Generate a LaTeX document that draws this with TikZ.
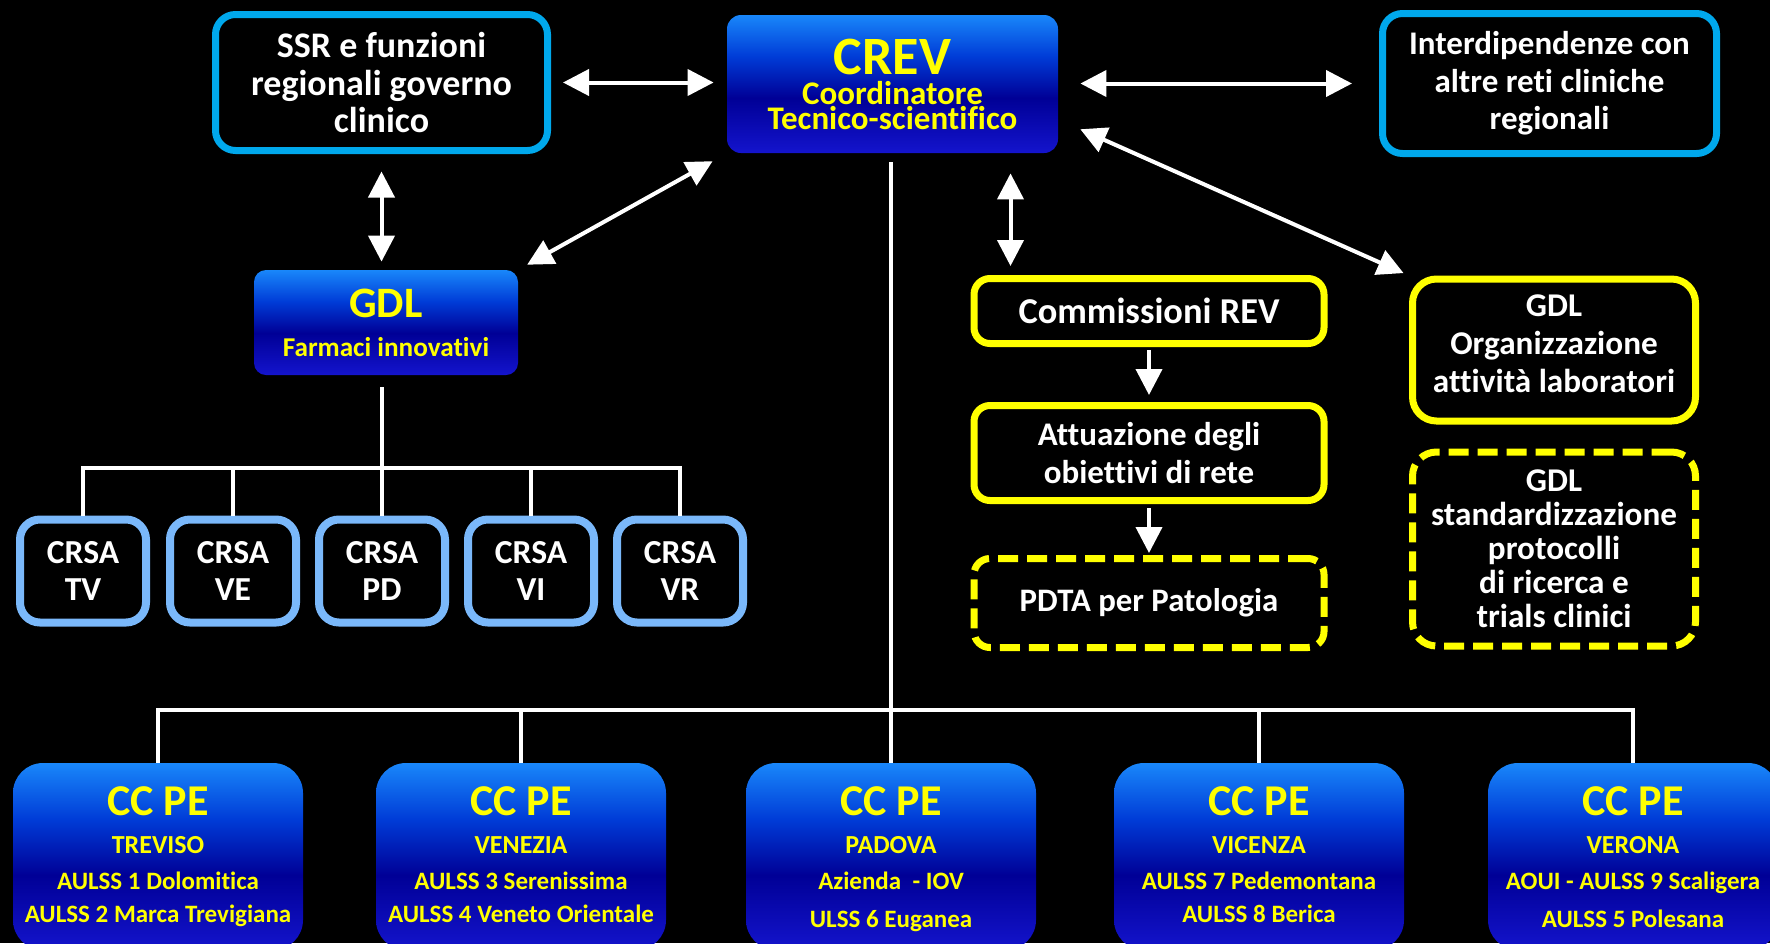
\documentclass[tikz,border=0pt]{standalone}
\usepackage{fontspec}
\setmainfont{Carlito}[Ligatures=NoCommon]
\usepackage{tikz}
\usetikzlibrary{arrows.meta}

\definecolor{ssrblue}{RGB}{0,168,236}
\definecolor{crsablue}{RGB}{122,184,250}
\definecolor{yel}{RGB}{255,255,0}
\definecolor{cctop}{RGB}{25,135,250}
\definecolor{ccmid}{RGB}{0,60,215}
\definecolor{ccdark}{RGB}{0,0,150}
\definecolor{ccbot}{RGB}{20,20,205}
\pgfdeclareverticalshading{ccshade}{100bp}{color(0bp)=(ccbot); color(25bp)=(ccbot); color(45bp)=(ccdark); color(60bp)=(ccmid); color(75bp)=(cctop); color(100bp)=(cctop)}

\tikzset{
  outline/.style={draw=ssrblue, line width=3.5pt, rounded corners=10pt, fill=black,
    text=white, align=center, inner sep=0pt},
  crsabox/.style={draw=crsablue, line width=4pt, rounded corners=10pt, fill=black,
    minimum width=63pt, minimum height=51.5pt, text=white, align=center, inner sep=0pt,
    font=\bfseries\fontsize{16.8}{18.5}\selectfont},
  ybox/.style={draw=yel, line width=3.5pt, rounded corners=8pt, fill=black,
    text=white, align=center, inner sep=0pt, minimum width=175pt},
  ydash/.style={ybox, dash pattern=on 10pt off 4.5pt},
  bluebox/.style={shading=ccshade, text=yel, align=center, inner sep=0pt},
  ccbox/.style={bluebox, rounded corners=15pt, minimum width=145pt, minimum height=93.5pt,
    font=\bfseries\fontsize{12.5}{16.5}\selectfont},
  wire/.style={draw=white, line width=2pt},
  arr/.style={wire, -{Triangle[length=13pt,width=13pt]}},
  dbl/.style={wire, {Triangle[length=13pt,width=13pt]}-{Triangle[length=13pt,width=13pt]}}
}

\begin{document}
\begin{tikzpicture}[x=0.5pt, y=-0.5pt, font=\bfseries]
  \useasboundingbox (0,0) rectangle (1770,943);
  \fill[black] (0,0) rectangle (1770,943);

  % top row
  \node[outline, minimum width=166pt, minimum height=68pt,
    font=\bfseries\fontsize{18}{18.75}\selectfont] (ssr) at (381.5,82.5)
    {SSR e funzioni\\regionali governo\\clinico};
  \node[bluebox, rounded corners=7pt, minimum width=165.5pt, minimum height=69pt,
    font=\bfseries\fontsize{16.5}{12.5}\selectfont] (crev) at (892.5,84)
    {{\fontsize{27}{27}\selectfont CREV}\\[2.5pt]Coordinatore\\Tecnico-scientifico};
  \node[outline, minimum width=167pt, minimum height=70pt,
    font=\bfseries\fontsize{16.5}{18.75}\selectfont] (inter) at (1549.5,83.5)
    {Interdipendenze con\\altre reti cliniche\\regionali};

  % left branch
  \node[bluebox, rounded corners=6pt, minimum width=132pt, minimum height=52.5pt,
    font=\bfseries\fontsize{13.6}{19.5}\selectfont] (gdlf) at (386,322.5)
    {{\fontsize{21.7}{21.7}\selectfont GDL}\\Farmaci innovativi};
  \node[crsabox] (crsaTV) at (83,571) {CRSA\\TV};
  \node[crsabox] (crsaVE) at (233,571) {CRSA\\VE};
  \node[crsabox] (crsaPD) at (382,571) {CRSA\\PD};
  \node[crsabox] (crsaVI) at (531,571) {CRSA\\VI};
  \node[crsabox] (crsaVR) at (680,571) {CRSA\\VR};

  % right branch
  \node[ybox, minimum height=32.5pt, font=\bfseries\fontsize{18.2}{19}\selectfont]
    (comm) at (1149,311) {Commissioni REV};
  \node[ybox, minimum height=47.5pt, font=\bfseries\fontsize{16.5}{19}\selectfont]
    (attu) at (1149,453) {Attuazione degli\\obiettivi di rete};
  \node[ydash, minimum height=44.5pt, font=\bfseries\fontsize{16.4}{19}\selectfont]
    (pdta) at (1149,603) {PDTA per Patologia};
  \node[ybox, rounded corners=12pt, minimum width=141.5pt, minimum height=71pt,
    font=\bfseries\fontsize{16.6}{19}\selectfont] (gdlo) at (1554,350)
    {GDL\\Organizzazione\\attivit\`a laboratori\rule[-6pt]{0pt}{0pt}};
  \node[ydash, rounded corners=12pt, minimum width=141.5pt, minimum height=97pt,
    font=\bfseries\fontsize{16.6}{17}\selectfont] (gdls) at (1554,549)
    {GDL\\standardizzazione\\protocolli\\di ricerca e\\trials clinici};

  % bottom row
  \node[ccbox] (ccTV) at (158,856.5)
    {{\fontsize{22}{22}\selectfont\rule{0pt}{15pt}CC PE}\\[2.5pt]{\fontsize{13}{13}\selectfont TREVISO}\\[1.5pt]AULSS 1 Dolomitica\\AULSS 2 Marca Trevigiana\rule[-3pt]{0pt}{0pt}};
  \node[ccbox] (ccVE) at (521,856.5)
    {{\fontsize{22}{22}\selectfont\rule{0pt}{15pt}CC PE}\\[2.5pt]{\fontsize{13}{13}\selectfont VENEZIA}\\[1.5pt]AULSS 3 Serenissima\\AULSS 4 Veneto Orientale\rule[-3pt]{0pt}{0pt}};
  \node[ccbox] (ccPD) at (891,856.5)
    {{\fontsize{22}{22}\selectfont\rule{0pt}{17.5pt}CC PE}\\[2.5pt]{\fontsize{13}{13}\selectfont PADOVA}\\[1.5pt]Azienda~ - IOV\\[2.5pt]ULSS 6 Euganea\rule[-3pt]{0pt}{0pt}};
  \node[ccbox] (ccVI) at (1259,856.5)
    {{\fontsize{22}{22}\selectfont\rule{0pt}{15pt}CC PE}\\[2.5pt]{\fontsize{13}{13}\selectfont VICENZA}\\[1.5pt]AULSS 7 Pedemontana\\AULSS 8 Berica\rule[-3pt]{0pt}{0pt}};
  \node[ccbox] (ccVR) at (1633,856.5)
    {{\fontsize{22}{22}\selectfont\rule{0pt}{17.5pt}CC PE}\\[2.5pt]{\fontsize{13}{13}\selectfont VERONA}\\[1.5pt]AOUI - AULSS 9 Scaligera\\[2.5pt]AULSS 5 Polesana\rule[-3pt]{0pt}{0pt}};

  % arrows
  \draw[dbl, shorten <=6pt, shorten >=6.5pt] (ssr.east) -- (ssr.east -| crev.west);
  \draw[dbl, shorten <=11pt, shorten >=13.5pt] (crev.east |- inter.west) -- (inter.west);
  \draw[dbl, shorten <=8.75pt, shorten >=4pt] (ssr.south) -- (ssr.south |- gdlf.north);
  \draw[dbl, shorten <=5pt, shorten >=8pt] (gdlf.north east) -- (crev.south west);
  \draw[dbl, shorten <=4.5pt, shorten >=10pt] ([xshift=20pt]comm.north west)
    -- ([xshift=20pt]comm.north west |- crev.south);
  \draw[dbl, shorten <=12pt, shorten >=3pt] ([yshift=-17.75pt]crev.east) -- (gdlo.north west);
  \draw[arr, shorten <=1.5pt, shorten >=3.5pt] (comm.south) -- (attu.north);
  \draw[arr, shorten <=2pt, shorten >=1pt] (attu.south) -- (pdta.north);

  % CRSA tree
  \coordinate (crsabus) at (382,468);
  \draw[wire] ([yshift=-6pt]gdlf.south -| crsaPD.north) -- (crsabus);
  \draw[wire] (crsaTV.north) |- (crsabus -| crsaVR.north) -- (crsaVR.north);
  \draw[wire] (crsaVE.north) -- (crsaVE.north |- crsabus);
  \draw[wire] (crsaPD.north) -- (crsaPD.north |- crsabus);
  \draw[wire] (crsaVI.north) -- (crsaVI.north |- crsabus);

  % CC PE tree
  \coordinate (ccbus) at (891,710);
  \draw[wire] ([yshift=-4.5pt]crev.south -| ccPD.north) -- (ccPD.north);
  \draw[wire] (ccTV.north) |- (ccbus -| ccVR.north) -- (ccVR.north);
  \draw[wire] (ccVE.north) -- (ccVE.north |- ccbus);
  \draw[wire] (ccVI.north) -- (ccVI.north |- ccbus);
\end{tikzpicture}
\end{document}
